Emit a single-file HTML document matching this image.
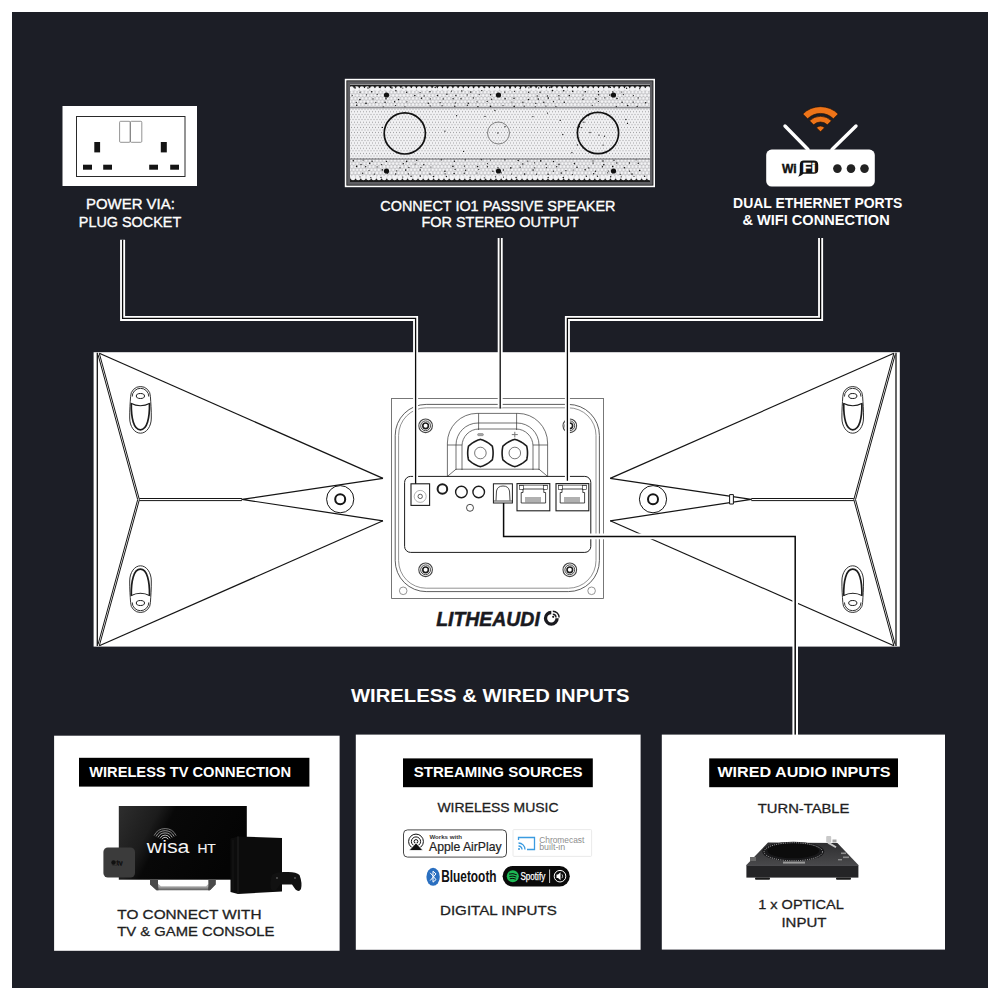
<!DOCTYPE html>
<html><head><meta charset="utf-8"><title>Lithe Audio</title>
<style>
html,body{margin:0;padding:0;background:#fff;width:1000px;height:1000px;overflow:hidden;}
svg{display:block;}
text{font-family:"Liberation Sans",sans-serif;}
</style></head><body>
<svg width="1000" height="1000" viewBox="0 0 1000 1000">
<defs>
<pattern id="hex" x="350" y="84.5" width="3" height="5.2" patternUnits="userSpaceOnUse">
<rect width="3" height="5.2" fill="#f1f1f3"/>
<circle cx="1.5" cy="1.3" r="0.55" fill="#9d9da0"/>
<circle cx="0" cy="3.9" r="0.55" fill="#9d9da0"/>
<circle cx="3" cy="3.9" r="0.55" fill="#9d9da0"/>
</pattern>
<pattern id="hexb" x="350" y="84.5" width="3.6" height="6.2" patternUnits="userSpaceOnUse">
<rect width="3.6" height="6.2" fill="#b9b9bc"/>
<circle cx="1.8" cy="1.55" r="1.45" fill="#f4f4f6"/>
<circle cx="0" cy="4.65" r="1.45" fill="#f4f4f6"/>
<circle cx="3.6" cy="4.65" r="1.45" fill="#f4f4f6"/>
</pattern>
</defs>
<rect x="12" y="12" width="976" height="976" fill="#1c1e26"/>

<!-- ============ PLUG SOCKET ============ -->
<rect x="62.5" y="106" width="134.5" height="80" fill="#fff"/>
<rect x="76.5" y="116.5" width="108.5" height="60" fill="none" stroke="#2a2a2a" stroke-width="1"/>
<rect x="119.6" y="121.3" width="10.6" height="21" rx="1" fill="none" stroke="#777" stroke-width="0.8"/>
<rect x="130.4" y="121.3" width="11.4" height="21" rx="1" fill="none" stroke="#777" stroke-width="0.8"/>
<rect x="94.3" y="142" width="5.8" height="10.4" fill="#141414"/>
<rect x="160.8" y="142" width="6" height="10.4" fill="#141414"/>
<rect x="83" y="164.7" width="9" height="5" fill="#141414"/>
<rect x="103.2" y="164.7" width="8.8" height="5" fill="#141414"/>
<rect x="149.2" y="164.7" width="8.8" height="5" fill="#141414"/>
<rect x="170.2" y="164.7" width="8.8" height="5" fill="#141414"/>
<text x="86" y="209.3" font-size="14.8" fill="#fff" stroke="#fff" stroke-width="0.35" textLength="88.8" lengthAdjust="spacingAndGlyphs">POWER VIA:</text>
<text x="78.8" y="226.6" font-size="14.8" fill="#fff" stroke="#fff" stroke-width="0.35" textLength="102.4" lengthAdjust="spacingAndGlyphs">PLUG SOCKET</text>

<!-- ============ SPEAKER ============ -->
<rect x="345.6" y="79.6" width="308.6" height="106.8" fill="#111" stroke="#fff" stroke-width="1.6"/>
<rect x="347.2" y="81.2" width="305.4" height="103.6" fill="#5e5e62"/>
<rect x="350" y="84.5" width="300" height="97.5" fill="url(#hex)"/>
<rect x="350" y="84.5" width="300" height="23" fill="url(#hexb)"/>
<rect x="350" y="159.2" width="300" height="22.8" fill="url(#hexb)"/>
<clipPath id="spkclip"><rect x="350" y="84.5" width="300" height="97.5"/></clipPath>
<g clip-path="url(#spkclip)">
<rect x="350" y="84.5" width="300" height="3.6" fill="#1e1e1e"/>
<rect x="350" y="178.6" width="300" height="3.4" fill="#1e1e1e"/>
<circle cx="351.5" cy="88.7" r="2.35" fill="#f2f2f4"/>
<circle cx="353.0" cy="178" r="2.35" fill="#f2f2f4"/>
<circle cx="356.7" cy="88.7" r="2.35" fill="#f2f2f4"/>
<circle cx="358.2" cy="178" r="2.35" fill="#f2f2f4"/>
<circle cx="361.9" cy="88.7" r="2.35" fill="#f2f2f4"/>
<circle cx="363.4" cy="178" r="2.35" fill="#f2f2f4"/>
<circle cx="367.1" cy="88.7" r="2.35" fill="#f2f2f4"/>
<circle cx="368.6" cy="178" r="2.35" fill="#f2f2f4"/>
<circle cx="372.3" cy="88.7" r="2.35" fill="#f2f2f4"/>
<circle cx="373.8" cy="178" r="2.35" fill="#f2f2f4"/>
<circle cx="377.5" cy="88.7" r="2.35" fill="#f2f2f4"/>
<circle cx="379.0" cy="178" r="2.35" fill="#f2f2f4"/>
<circle cx="382.7" cy="88.7" r="2.35" fill="#f2f2f4"/>
<circle cx="384.2" cy="178" r="2.35" fill="#f2f2f4"/>
<circle cx="387.9" cy="88.7" r="2.35" fill="#f2f2f4"/>
<circle cx="389.4" cy="178" r="2.35" fill="#f2f2f4"/>
<circle cx="393.1" cy="88.7" r="2.35" fill="#f2f2f4"/>
<circle cx="394.6" cy="178" r="2.35" fill="#f2f2f4"/>
<circle cx="398.3" cy="88.7" r="2.35" fill="#f2f2f4"/>
<circle cx="399.8" cy="178" r="2.35" fill="#f2f2f4"/>
<circle cx="403.5" cy="88.7" r="2.35" fill="#f2f2f4"/>
<circle cx="405.0" cy="178" r="2.35" fill="#f2f2f4"/>
<circle cx="408.7" cy="88.7" r="2.35" fill="#f2f2f4"/>
<circle cx="410.2" cy="178" r="2.35" fill="#f2f2f4"/>
<circle cx="413.9" cy="88.7" r="2.35" fill="#f2f2f4"/>
<circle cx="415.4" cy="178" r="2.35" fill="#f2f2f4"/>
<circle cx="419.1" cy="88.7" r="2.35" fill="#f2f2f4"/>
<circle cx="420.6" cy="178" r="2.35" fill="#f2f2f4"/>
<circle cx="424.3" cy="88.7" r="2.35" fill="#f2f2f4"/>
<circle cx="425.8" cy="178" r="2.35" fill="#f2f2f4"/>
<circle cx="429.5" cy="88.7" r="2.35" fill="#f2f2f4"/>
<circle cx="431.0" cy="178" r="2.35" fill="#f2f2f4"/>
<circle cx="434.7" cy="88.7" r="2.35" fill="#f2f2f4"/>
<circle cx="436.2" cy="178" r="2.35" fill="#f2f2f4"/>
<circle cx="439.9" cy="88.7" r="2.35" fill="#f2f2f4"/>
<circle cx="441.4" cy="178" r="2.35" fill="#f2f2f4"/>
<circle cx="445.1" cy="88.7" r="2.35" fill="#f2f2f4"/>
<circle cx="446.6" cy="178" r="2.35" fill="#f2f2f4"/>
<circle cx="450.3" cy="88.7" r="2.35" fill="#f2f2f4"/>
<circle cx="451.8" cy="178" r="2.35" fill="#f2f2f4"/>
<circle cx="455.5" cy="88.7" r="2.35" fill="#f2f2f4"/>
<circle cx="457.0" cy="178" r="2.35" fill="#f2f2f4"/>
<circle cx="460.7" cy="88.7" r="2.35" fill="#f2f2f4"/>
<circle cx="462.2" cy="178" r="2.35" fill="#f2f2f4"/>
<circle cx="465.9" cy="88.7" r="2.35" fill="#f2f2f4"/>
<circle cx="467.4" cy="178" r="2.35" fill="#f2f2f4"/>
<circle cx="471.1" cy="88.7" r="2.35" fill="#f2f2f4"/>
<circle cx="472.6" cy="178" r="2.35" fill="#f2f2f4"/>
<circle cx="476.3" cy="88.7" r="2.35" fill="#f2f2f4"/>
<circle cx="477.8" cy="178" r="2.35" fill="#f2f2f4"/>
<circle cx="481.5" cy="88.7" r="2.35" fill="#f2f2f4"/>
<circle cx="483.0" cy="178" r="2.35" fill="#f2f2f4"/>
<circle cx="486.7" cy="88.7" r="2.35" fill="#f2f2f4"/>
<circle cx="488.2" cy="178" r="2.35" fill="#f2f2f4"/>
<circle cx="491.9" cy="88.7" r="2.35" fill="#f2f2f4"/>
<circle cx="493.4" cy="178" r="2.35" fill="#f2f2f4"/>
<circle cx="497.1" cy="88.7" r="2.35" fill="#f2f2f4"/>
<circle cx="498.6" cy="178" r="2.35" fill="#f2f2f4"/>
<circle cx="502.3" cy="88.7" r="2.35" fill="#f2f2f4"/>
<circle cx="503.8" cy="178" r="2.35" fill="#f2f2f4"/>
<circle cx="507.5" cy="88.7" r="2.35" fill="#f2f2f4"/>
<circle cx="509.0" cy="178" r="2.35" fill="#f2f2f4"/>
<circle cx="512.7" cy="88.7" r="2.35" fill="#f2f2f4"/>
<circle cx="514.2" cy="178" r="2.35" fill="#f2f2f4"/>
<circle cx="517.9" cy="88.7" r="2.35" fill="#f2f2f4"/>
<circle cx="519.4" cy="178" r="2.35" fill="#f2f2f4"/>
<circle cx="523.1" cy="88.7" r="2.35" fill="#f2f2f4"/>
<circle cx="524.6" cy="178" r="2.35" fill="#f2f2f4"/>
<circle cx="528.3" cy="88.7" r="2.35" fill="#f2f2f4"/>
<circle cx="529.8" cy="178" r="2.35" fill="#f2f2f4"/>
<circle cx="533.5" cy="88.7" r="2.35" fill="#f2f2f4"/>
<circle cx="535.0" cy="178" r="2.35" fill="#f2f2f4"/>
<circle cx="538.7" cy="88.7" r="2.35" fill="#f2f2f4"/>
<circle cx="540.2" cy="178" r="2.35" fill="#f2f2f4"/>
<circle cx="543.9" cy="88.7" r="2.35" fill="#f2f2f4"/>
<circle cx="545.4" cy="178" r="2.35" fill="#f2f2f4"/>
<circle cx="549.1" cy="88.7" r="2.35" fill="#f2f2f4"/>
<circle cx="550.6" cy="178" r="2.35" fill="#f2f2f4"/>
<circle cx="554.3" cy="88.7" r="2.35" fill="#f2f2f4"/>
<circle cx="555.8" cy="178" r="2.35" fill="#f2f2f4"/>
<circle cx="559.5" cy="88.7" r="2.35" fill="#f2f2f4"/>
<circle cx="561.0" cy="178" r="2.35" fill="#f2f2f4"/>
<circle cx="564.7" cy="88.7" r="2.35" fill="#f2f2f4"/>
<circle cx="566.2" cy="178" r="2.35" fill="#f2f2f4"/>
<circle cx="569.9" cy="88.7" r="2.35" fill="#f2f2f4"/>
<circle cx="571.4" cy="178" r="2.35" fill="#f2f2f4"/>
<circle cx="575.1" cy="88.7" r="2.35" fill="#f2f2f4"/>
<circle cx="576.6" cy="178" r="2.35" fill="#f2f2f4"/>
<circle cx="580.3" cy="88.7" r="2.35" fill="#f2f2f4"/>
<circle cx="581.8" cy="178" r="2.35" fill="#f2f2f4"/>
<circle cx="585.5" cy="88.7" r="2.35" fill="#f2f2f4"/>
<circle cx="587.0" cy="178" r="2.35" fill="#f2f2f4"/>
<circle cx="590.7" cy="88.7" r="2.35" fill="#f2f2f4"/>
<circle cx="592.2" cy="178" r="2.35" fill="#f2f2f4"/>
<circle cx="595.9" cy="88.7" r="2.35" fill="#f2f2f4"/>
<circle cx="597.4" cy="178" r="2.35" fill="#f2f2f4"/>
<circle cx="601.1" cy="88.7" r="2.35" fill="#f2f2f4"/>
<circle cx="602.6" cy="178" r="2.35" fill="#f2f2f4"/>
<circle cx="606.3" cy="88.7" r="2.35" fill="#f2f2f4"/>
<circle cx="607.8" cy="178" r="2.35" fill="#f2f2f4"/>
<circle cx="611.5" cy="88.7" r="2.35" fill="#f2f2f4"/>
<circle cx="613.0" cy="178" r="2.35" fill="#f2f2f4"/>
<circle cx="616.7" cy="88.7" r="2.35" fill="#f2f2f4"/>
<circle cx="618.2" cy="178" r="2.35" fill="#f2f2f4"/>
<circle cx="621.9" cy="88.7" r="2.35" fill="#f2f2f4"/>
<circle cx="623.4" cy="178" r="2.35" fill="#f2f2f4"/>
<circle cx="627.1" cy="88.7" r="2.35" fill="#f2f2f4"/>
<circle cx="628.6" cy="178" r="2.35" fill="#f2f2f4"/>
<circle cx="632.3" cy="88.7" r="2.35" fill="#f2f2f4"/>
<circle cx="633.8" cy="178" r="2.35" fill="#f2f2f4"/>
<circle cx="637.5" cy="88.7" r="2.35" fill="#f2f2f4"/>
<circle cx="639.0" cy="178" r="2.35" fill="#f2f2f4"/>
<circle cx="642.7" cy="88.7" r="2.35" fill="#f2f2f4"/>
<circle cx="644.2" cy="178" r="2.35" fill="#f2f2f4"/>
<circle cx="647.9" cy="88.7" r="2.35" fill="#f2f2f4"/>
<circle cx="649.4" cy="178" r="2.35" fill="#f2f2f4"/>
<g fill="#151515"><circle cx="355.1" cy="87.9" r="0.8"/><circle cx="368.0" cy="88.0" r="0.8"/><circle cx="379.5" cy="87.2" r="0.8"/><circle cx="391.9" cy="87.9" r="0.8"/><circle cx="402.8" cy="88.1" r="0.6"/><circle cx="435.2" cy="87.5" r="0.7"/><circle cx="447.5" cy="87.6" r="0.8"/><circle cx="473.3" cy="87.6" r="0.6"/><circle cx="484.8" cy="87.6" r="0.6"/><circle cx="510.0" cy="87.9" r="0.8"/><circle cx="520.1" cy="88.6" r="0.7"/><circle cx="528.9" cy="87.8" r="0.6"/><circle cx="538.6" cy="87.9" r="0.7"/><circle cx="549.8" cy="87.4" r="0.8"/><circle cx="562.5" cy="87.8" r="0.6"/><circle cx="587.2" cy="87.0" r="0.6"/><circle cx="610.3" cy="87.4" r="0.7"/><circle cx="618.9" cy="87.8" r="0.6"/><circle cx="626.6" cy="88.2" r="0.7"/><circle cx="639.7" cy="88.7" r="0.6"/><circle cx="360.0" cy="92.2" r="0.6"/><circle cx="371.7" cy="91.7" r="0.8"/><circle cx="395.9" cy="90.7" r="0.7"/><circle cx="406.6" cy="92.2" r="0.8"/><circle cx="420.1" cy="92.6" r="0.6"/><circle cx="430.0" cy="91.8" r="0.7"/><circle cx="451.5" cy="91.1" r="0.6"/><circle cx="461.8" cy="90.9" r="0.7"/><circle cx="470.8" cy="92.1" r="0.8"/><circle cx="481.8" cy="90.6" r="0.7"/><circle cx="504.8" cy="92.1" r="0.7"/><circle cx="514.4" cy="91.3" r="0.6"/><circle cx="528.6" cy="92.2" r="0.7"/><circle cx="540.0" cy="92.3" r="0.7"/><circle cx="552.5" cy="90.6" r="0.8"/><circle cx="563.7" cy="90.8" r="0.8"/><circle cx="572.7" cy="91.3" r="0.8"/><circle cx="585.3" cy="91.7" r="0.8"/><circle cx="598.5" cy="91.6" r="0.6"/><circle cx="612.8" cy="91.9" r="0.7"/><circle cx="621.7" cy="92.0" r="0.6"/><circle cx="352.2" cy="95.5" r="0.6"/><circle cx="366.6" cy="94.8" r="0.6"/><circle cx="377.2" cy="94.3" r="0.6"/><circle cx="388.8" cy="95.1" r="0.7"/><circle cx="414.8" cy="95.6" r="0.8"/><circle cx="424.2" cy="95.9" r="0.6"/><circle cx="437.5" cy="95.5" r="0.8"/><circle cx="446.9" cy="94.2" r="0.7"/><circle cx="455.9" cy="95.5" r="0.7"/><circle cx="467.2" cy="94.9" r="0.6"/><circle cx="479.2" cy="94.6" r="0.6"/><circle cx="490.6" cy="94.7" r="0.7"/><circle cx="537.2" cy="96.0" r="0.7"/><circle cx="547.5" cy="96.0" r="0.7"/><circle cx="558.9" cy="95.8" r="0.7"/><circle cx="569.3" cy="95.6" r="0.8"/><circle cx="583.1" cy="95.0" r="0.6"/><circle cx="598.6" cy="94.8" r="0.8"/><circle cx="609.8" cy="95.1" r="0.8"/><circle cx="623.4" cy="94.6" r="0.6"/><circle cx="633.4" cy="95.6" r="0.6"/><circle cx="359.9" cy="99.6" r="0.8"/><circle cx="373.0" cy="98.9" r="0.7"/><circle cx="386.0" cy="98.8" r="0.8"/><circle cx="398.6" cy="99.5" r="0.8"/><circle cx="421.4" cy="98.2" r="0.8"/><circle cx="430.3" cy="98.9" r="0.6"/><circle cx="443.2" cy="98.9" r="0.7"/><circle cx="453.1" cy="98.7" r="0.7"/><circle cx="461.0" cy="98.7" r="0.7"/><circle cx="473.5" cy="97.9" r="0.7"/><circle cx="491.7" cy="99.2" r="0.7"/><circle cx="505.1" cy="98.8" r="0.8"/><circle cx="514.0" cy="98.2" r="0.8"/><circle cx="528.5" cy="99.5" r="0.8"/><circle cx="538.3" cy="99.1" r="0.8"/><circle cx="548.3" cy="98.1" r="0.8"/><circle cx="559.2" cy="99.0" r="0.6"/><circle cx="582.9" cy="99.3" r="0.7"/><circle cx="595.9" cy="98.9" r="0.8"/><circle cx="604.8" cy="97.8" r="0.6"/><circle cx="617.0" cy="98.5" r="0.8"/><circle cx="638.2" cy="97.9" r="0.6"/><circle cx="356.3" cy="102.4" r="0.6"/><circle cx="366.0" cy="103.4" r="0.8"/><circle cx="375.8" cy="102.3" r="0.6"/><circle cx="385.1" cy="102.3" r="0.8"/><circle cx="394.6" cy="101.8" r="0.7"/><circle cx="406.9" cy="101.8" r="0.6"/><circle cx="428.3" cy="103.2" r="0.8"/><circle cx="440.1" cy="102.6" r="0.7"/><circle cx="455.3" cy="102.9" r="0.6"/><circle cx="468.3" cy="103.2" r="0.8"/><circle cx="477.0" cy="101.8" r="0.6"/><circle cx="487.2" cy="101.4" r="0.7"/><circle cx="511.9" cy="102.0" r="0.6"/><circle cx="522.9" cy="102.2" r="0.7"/><circle cx="535.8" cy="103.4" r="0.6"/><circle cx="543.8" cy="102.3" r="0.8"/><circle cx="553.5" cy="101.6" r="0.7"/><circle cx="564.3" cy="102.2" r="0.8"/><circle cx="598.4" cy="101.5" r="0.6"/><circle cx="622.1" cy="102.3" r="0.7"/><circle cx="633.2" cy="102.1" r="0.7"/><circle cx="645.6" cy="102.7" r="0.8"/><circle cx="356.7" cy="105.3" r="0.8"/><circle cx="383.2" cy="106.9" r="0.6"/><circle cx="395.4" cy="105.5" r="0.6"/><circle cx="404.9" cy="106.8" r="0.6"/><circle cx="430.2" cy="105.9" r="0.6"/><circle cx="442.1" cy="105.7" r="0.6"/><circle cx="454.8" cy="106.2" r="0.7"/><circle cx="467.3" cy="105.3" r="0.7"/><circle cx="477.9" cy="106.8" r="0.8"/><circle cx="490.5" cy="106.4" r="0.8"/><circle cx="503.0" cy="105.5" r="0.6"/><circle cx="514.2" cy="106.4" r="0.8"/><circle cx="524.2" cy="106.2" r="0.6"/><circle cx="535.3" cy="106.8" r="0.6"/><circle cx="545.9" cy="106.0" r="0.6"/><circle cx="555.9" cy="106.7" r="0.6"/><circle cx="592.3" cy="105.3" r="0.6"/><circle cx="616.3" cy="106.8" r="0.7"/><circle cx="627.7" cy="105.6" r="0.8"/><circle cx="637.2" cy="106.4" r="0.7"/><circle cx="353.3" cy="160.7" r="0.8"/><circle cx="363.1" cy="160.1" r="0.6"/><circle cx="372.1" cy="161.3" r="0.7"/><circle cx="386.5" cy="161.4" r="0.7"/><circle cx="406.6" cy="161.4" r="0.8"/><circle cx="416.7" cy="160.2" r="0.7"/><circle cx="441.4" cy="159.8" r="0.8"/><circle cx="454.4" cy="161.3" r="0.7"/><circle cx="465.3" cy="159.8" r="0.7"/><circle cx="481.4" cy="159.6" r="0.8"/><circle cx="490.5" cy="160.0" r="0.6"/><circle cx="504.9" cy="159.8" r="0.8"/><circle cx="518.2" cy="160.5" r="0.8"/><circle cx="527.8" cy="161.1" r="0.7"/><circle cx="540.7" cy="160.9" r="0.8"/><circle cx="553.5" cy="161.5" r="0.7"/><circle cx="593.0" cy="160.9" r="0.6"/><circle cx="603.0" cy="161.0" r="0.8"/><circle cx="614.0" cy="160.3" r="0.7"/><circle cx="636.1" cy="159.8" r="0.6"/><circle cx="361.0" cy="164.4" r="0.7"/><circle cx="369.7" cy="163.3" r="0.8"/><circle cx="381.7" cy="164.6" r="0.7"/><circle cx="403.3" cy="163.8" r="0.7"/><circle cx="415.1" cy="164.1" r="0.6"/><circle cx="423.8" cy="164.7" r="0.7"/><circle cx="487.4" cy="163.6" r="0.6"/><circle cx="522.8" cy="164.0" r="0.8"/><circle cx="534.5" cy="162.8" r="0.6"/><circle cx="546.1" cy="164.2" r="0.6"/><circle cx="559.0" cy="164.3" r="0.8"/><circle cx="574.4" cy="163.6" r="0.8"/><circle cx="593.1" cy="163.1" r="0.7"/><circle cx="603.8" cy="164.8" r="0.8"/><circle cx="616.8" cy="163.0" r="0.7"/><circle cx="629.5" cy="163.0" r="0.7"/><circle cx="638.3" cy="163.3" r="0.8"/><circle cx="356.6" cy="166.4" r="0.8"/><circle cx="365.7" cy="166.8" r="0.7"/><circle cx="377.1" cy="166.9" r="0.6"/><circle cx="400.0" cy="167.8" r="0.6"/><circle cx="408.9" cy="167.4" r="0.6"/><circle cx="420.9" cy="167.3" r="0.6"/><circle cx="430.9" cy="167.0" r="0.6"/><circle cx="452.9" cy="166.4" r="0.8"/><circle cx="464.4" cy="166.1" r="0.7"/><circle cx="477.6" cy="166.6" r="0.8"/><circle cx="487.5" cy="166.7" r="0.7"/><circle cx="498.0" cy="167.7" r="0.6"/><circle cx="510.8" cy="167.9" r="0.8"/><circle cx="520.2" cy="167.2" r="0.6"/><circle cx="534.7" cy="167.8" r="0.6"/><circle cx="546.4" cy="167.7" r="0.6"/><circle cx="556.7" cy="166.8" r="0.7"/><circle cx="577.0" cy="167.2" r="0.8"/><circle cx="588.8" cy="167.9" r="0.7"/><circle cx="602.5" cy="166.7" r="0.7"/><circle cx="612.7" cy="166.5" r="0.8"/><circle cx="624.5" cy="167.7" r="0.8"/><circle cx="369.0" cy="170.5" r="0.6"/><circle cx="382.3" cy="169.9" r="0.8"/><circle cx="396.7" cy="170.8" r="0.6"/><circle cx="405.7" cy="170.1" r="0.8"/><circle cx="420.2" cy="170.0" r="0.7"/><circle cx="444.9" cy="171.2" r="0.8"/><circle cx="455.1" cy="169.4" r="0.6"/><circle cx="465.6" cy="170.2" r="0.7"/><circle cx="478.8" cy="169.5" r="0.6"/><circle cx="492.9" cy="171.3" r="0.7"/><circle cx="503.5" cy="170.0" r="0.7"/><circle cx="533.1" cy="170.1" r="0.8"/><circle cx="553.4" cy="171.2" r="0.6"/><circle cx="565.9" cy="170.6" r="0.7"/><circle cx="573.2" cy="170.0" r="0.6"/><circle cx="585.1" cy="169.7" r="0.8"/><circle cx="595.5" cy="171.2" r="0.7"/><circle cx="608.4" cy="171.0" r="0.6"/><circle cx="629.5" cy="171.1" r="0.7"/><circle cx="639.7" cy="170.5" r="0.8"/><circle cx="362.7" cy="173.3" r="0.7"/><circle cx="374.3" cy="174.1" r="0.7"/><circle cx="387.5" cy="172.9" r="0.8"/><circle cx="395.6" cy="174.0" r="0.7"/><circle cx="408.4" cy="173.9" r="0.6"/><circle cx="430.0" cy="174.0" r="0.7"/><circle cx="445.1" cy="173.8" r="0.6"/><circle cx="454.1" cy="173.5" r="0.8"/><circle cx="464.2" cy="173.2" r="0.7"/><circle cx="477.0" cy="173.0" r="0.6"/><circle cx="501.3" cy="172.8" r="0.6"/><circle cx="511.5" cy="174.0" r="0.6"/><circle cx="524.6" cy="174.1" r="0.8"/><circle cx="536.5" cy="174.2" r="0.6"/><circle cx="548.1" cy="174.2" r="0.8"/><circle cx="561.2" cy="173.1" r="0.8"/><circle cx="572.4" cy="174.6" r="0.6"/><circle cx="593.6" cy="173.7" r="0.7"/><circle cx="607.6" cy="172.8" r="0.6"/><circle cx="620.2" cy="174.3" r="0.6"/><circle cx="632.0" cy="174.1" r="0.8"/><circle cx="360.0" cy="176.8" r="0.6"/><circle cx="370.8" cy="177.6" r="0.6"/><circle cx="381.0" cy="177.4" r="0.6"/><circle cx="402.8" cy="177.0" r="0.6"/><circle cx="411.1" cy="176.2" r="0.8"/><circle cx="420.3" cy="176.1" r="0.8"/><circle cx="433.5" cy="176.5" r="0.8"/><circle cx="446.4" cy="176.5" r="0.7"/><circle cx="470.1" cy="177.3" r="0.6"/><circle cx="484.3" cy="177.8" r="0.6"/><circle cx="495.4" cy="176.8" r="0.6"/><circle cx="503.5" cy="177.1" r="0.6"/><circle cx="516.1" cy="177.5" r="0.7"/><circle cx="548.2" cy="177.4" r="0.7"/><circle cx="563.3" cy="177.5" r="0.8"/><circle cx="586.4" cy="176.3" r="0.7"/><circle cx="597.5" cy="176.2" r="0.7"/><circle cx="610.7" cy="176.8" r="0.7"/><circle cx="621.2" cy="176.8" r="0.6"/><circle cx="634.0" cy="176.3" r="0.6"/><circle cx="644.6" cy="176.3" r="0.8"/><circle cx="444.9" cy="131.2" r="0.65"/><circle cx="463.6" cy="151.4" r="0.65"/><circle cx="599.0" cy="135.1" r="0.65"/><circle cx="485.0" cy="116.4" r="0.65"/><circle cx="505.0" cy="126.7" r="0.65"/><circle cx="382.4" cy="127.4" r="0.65"/><circle cx="532.9" cy="116.6" r="0.65"/><circle cx="603.1" cy="145.1" r="0.65"/><circle cx="494.9" cy="110.5" r="0.65"/><circle cx="577.4" cy="144.9" r="0.65"/><circle cx="547.5" cy="113.1" r="0.65"/><circle cx="604.5" cy="136.2" r="0.65"/><circle cx="456.6" cy="115.7" r="0.65"/><circle cx="581.3" cy="127.6" r="0.65"/><circle cx="583.9" cy="122.2" r="0.65"/><circle cx="588.7" cy="115.6" r="0.65"/><circle cx="497.9" cy="133.0" r="0.65"/><circle cx="627.5" cy="123.4" r="0.65"/><circle cx="560.2" cy="120.4" r="0.65"/><circle cx="625.9" cy="119.5" r="0.65"/><circle cx="579.4" cy="126.5" r="0.65"/><circle cx="562.8" cy="134.5" r="0.65"/><circle cx="571.9" cy="152.7" r="0.65"/><circle cx="590.0" cy="132.5" r="0.65"/></g>
</g>
<line x1="350" y1="107.8" x2="650" y2="107.8" stroke="#6a6a6e" stroke-width="1"/>
<line x1="350" y1="159" x2="650" y2="159" stroke="#6a6a6e" stroke-width="1"/>
<circle cx="404.8" cy="133.4" r="20.6" fill="none" stroke="#111" stroke-width="1.7"/>
<circle cx="598" cy="133" r="20.6" fill="none" stroke="#111" stroke-width="1.7"/>
<circle cx="498.5" cy="133" r="11" fill="none" stroke="#666" stroke-width="0.8"/>
<g fill="#111">
<circle cx="386.5" cy="95" r="2.6"/><circle cx="386.5" cy="171" r="2.6"/>
<circle cx="498.5" cy="95" r="2.6"/><circle cx="498.5" cy="171" r="2.6"/>
<circle cx="613.5" cy="95" r="2.6"/><circle cx="613.5" cy="171" r="2.6"/>
</g>
<text x="380.3" y="210.9" font-size="14.8" fill="#fff" stroke="#fff" stroke-width="0.35" textLength="235.2" lengthAdjust="spacingAndGlyphs">CONNECT IO1 PASSIVE SPEAKER</text>
<text x="421.4" y="227.3" font-size="14.8" fill="#fff" stroke="#fff" stroke-width="0.35" textLength="157.4" lengthAdjust="spacingAndGlyphs">FOR STEREO OUTPUT</text>

<!-- ============ ROUTER ============ -->
<line x1="785" y1="126" x2="808" y2="149.5" stroke="#fff" stroke-width="3.4" stroke-linecap="round"/>
<line x1="856" y1="126" x2="832" y2="149.5" stroke="#fff" stroke-width="3.4" stroke-linecap="round"/>
<rect x="766.2" y="149.6" width="108.6" height="37" rx="5.5" fill="#fff"/>
<g fill="#ee7419" stroke="#1a0d05" stroke-width="0.6">
<path d="M 802.82 113.97 A 25 25 0 0 1 838.18 113.97 L 833.4 118.75 A 18.25 18.25 0 0 0 807.6 118.75 Z"/>
<path d="M 809.54 120.79 A 15.5 15.5 0 0 1 831.46 120.79 L 827.4 124.85 A 9.75 9.75 0 0 0 813.6 124.85 Z"/>
<path d="M 820.5 131.75 L 816.43 127.68 A 5.75 5.75 0 0 1 824.57 127.68 Z"/>
</g>
<text x="782" y="172.7" font-size="12.8" font-weight="bold" fill="#111" stroke="#111" stroke-width="0.45" textLength="14.6" lengthAdjust="spacingAndGlyphs">Wi</text>
<path d="M 803.8 160.4 H 813.8 Q 818.2 160.4 818.2 164.8 V 169.4 Q 818.2 173.8 813.8 173.8 H 803.4 Q 801.4 175.8 798.2 176.8 Q 799.9 174.6 799.8 171.8 V 164.8 Q 799.8 160.4 803.8 160.4 Z" fill="#111"/>
<text x="802.6" y="172" font-size="12" font-weight="bold" fill="#fff" stroke="#fff" stroke-width="0.35" textLength="13" lengthAdjust="spacingAndGlyphs">Fi</text>
<g fill="#222"><circle cx="837.4" cy="168.6" r="4.3"/><circle cx="851" cy="168.6" r="4.3"/><circle cx="864.5" cy="168.6" r="4.3"/></g>
<text x="733.1" y="208.1" font-size="13.8" font-weight="bold" fill="#fff" textLength="169.3" lengthAdjust="spacingAndGlyphs">DUAL ETHERNET PORTS</text>
<text x="742.5" y="225.3" font-size="13.8" font-weight="bold" fill="#fff" textLength="147.2" lengthAdjust="spacingAndGlyphs">&amp; WIFI CONNECTION</text>

<!-- ============ DEVICE ============ -->
<rect x="93.6" y="352.2" width="806.2" height="294.4" fill="#fff"/>
<g fill="none" stroke="#151515" stroke-width="1.2" stroke-linejoin="round">
<line x1="97.3" y1="352.8" x2="97.3" y2="646" stroke-width="1.3"/>
<line x1="896" y1="352.8" x2="896" y2="646" stroke-width="1.3"/>
<g id="wingL">
<line x1="99.3" y1="353.3" x2="383" y2="478.4"/>
<line x1="99.3" y1="645.8" x2="383" y2="520.8"/>
<path d="M 99.3 353.3 L 139.4 499.6 L 99.3 645.8" stroke-width="1"/>
<path d="M 98 354.6 L 137.7 499.6 L 98 644.5" stroke-width="1"/>
<line x1="139.4" y1="498.5" x2="241.9" y2="498.5" stroke-width="1"/>
<line x1="139.4" y1="500.6" x2="241.9" y2="500.6" stroke-width="1"/>
<path d="M 383 478.4 L 241.9 499.4 L 383 520.8"/>
<circle cx="340.2" cy="499.2" r="13.6" stroke-width="1"/>
<circle cx="340.2" cy="499.2" r="5" stroke-width="2"/>
</g>
<use href="#wingL" transform="translate(993.2 0) scale(-1 1)"/>
<rect x="729.6" y="494.6" width="3.8" height="9.4" fill="#fff" stroke-width="1"/>
</g>
<!-- keyholes -->
<g id="kh" fill="none" stroke="#1c1c1c" stroke-width="0.9">
<path d="M 130.6 396.4 A 9.9 9.9 0 0 1 150.4 396.4 C 150.8 403 151.4 410 151.3 418 C 151.3 426.5 146.5 433.2 140.5 433.2 C 134.5 433.2 129.7 426.5 129.7 418 C 129.6 410 130.2 403 130.6 396.4 Z"/>
<path d="M 132.2 396.6 A 8.3 8.3 0 0 1 148.8 396.6"/>
<path d="M 131.3 403.6 C 131.1 418 133.6 429.8 140.4 429.8 C 147.2 429.8 149.7 418 149.5 403.6" stroke-width="1.7"/>
<path d="M 130.8 403.2 Q 140.4 408.2 150 403.2" stroke-width="1.1"/>
<ellipse cx="140.4" cy="396" rx="4.1" ry="2.5" stroke-width="1"/>
</g>
<use href="#kh" transform="translate(0 999) scale(1 -1)"/>
<use href="#kh" transform="translate(993.2 0) scale(-1 1)"/>
<use href="#kh" transform="translate(993.2 999) scale(-1 -1)"/>

<!-- center panel -->
<g fill="none" stroke="#333" stroke-width="0.8">
<rect x="391.6" y="398.4" width="212" height="200" stroke="#555" stroke-width="0.8"/>
<rect x="395.2" y="404.4" width="204.2" height="187.2" rx="31"/>
<rect x="398.6" y="407.8" width="197.4" height="180.4" rx="27.6" stroke="#777"/>
</g>
<!-- screws -->
<g id="scr" fill="none" stroke="#1c1c1c">
<circle cx="425.6" cy="425.8" r="6.8" stroke-width="1.1" stroke="#444"/>
<circle cx="425.6" cy="425.8" r="4.9" stroke-width="0.8"/>
<circle cx="425.6" cy="425.8" r="2.8" stroke-width="1.6"/>
</g>
<use href="#scr" transform="translate(144.2 0)"/>
<use href="#scr" transform="translate(0 144)"/>
<use href="#scr" transform="translate(144.2 144)"/>
<g fill="none" stroke="#888" stroke-width="0.9">
<circle cx="403.2" cy="590.8" r="3.8"/>
<circle cx="591.6" cy="590.8" r="3.8"/>
</g>
<!-- terminal housing -->
<g fill="none" stroke="#333" stroke-width="0.7">
<path d="M 447.4 476.4 L 447.4 443 A 29.6 29.6 0 0 1 477 413.4 L 518 413.4 A 29.6 29.6 0 0 1 547.6 443 L 547.6 476.4"/>
<path d="M 456 470 L 456 445 A 22 22 0 0 1 478 423 L 517 423 A 22 22 0 0 1 539 445 L 539 470"/>
<path d="M 462 470 L 462 446 A 17 17 0 0 1 479 429 L 516 429 A 17 17 0 0 1 533 446 L 533 470"/>
<path d="M 447.4 476.4 L 456 469.2 L 539 469.2 L 547.6 476.4"/>
<line x1="478.6" y1="413.4" x2="478.6" y2="430"/>
<line x1="516.6" y1="413.4" x2="516.6" y2="430"/>
<line x1="447.4" y1="445" x2="462" y2="445"/>
<line x1="533" y1="445" x2="547.6" y2="445"/>
</g>
<g fill="none" stroke="#1c1c1c">
<polygon points="493.11,453.00 493.08,454.11 493.02,455.22 492.90,456.35 492.75,457.49 492.55,458.67 492.31,459.88 491.38,460.69 490.47,461.45 489.55,462.15 488.63,462.81 487.70,463.43 486.75,464.00 485.78,464.54 484.78,465.04 483.75,465.50 482.68,465.94 481.57,466.35 480.40,466.75 479.23,466.35 478.12,465.94 477.05,465.50 476.02,465.04 475.02,464.54 474.05,464.00 473.10,463.43 472.17,462.81 471.25,462.15 470.33,461.45 469.42,460.69 468.49,459.88 468.25,458.67 468.05,457.49 467.90,456.35 467.78,455.22 467.72,454.11 467.69,453.00 467.72,451.89 467.78,450.78 467.90,449.65 468.05,448.51 468.25,447.33 468.49,446.12 469.42,445.31 470.33,444.55 471.25,443.85 472.17,443.19 473.10,442.57 474.05,442.00 475.02,441.46 476.02,440.96 477.05,440.50 478.12,440.06 479.23,439.65 480.40,439.25 481.57,439.65 482.68,440.06 483.75,440.50 484.78,440.96 485.78,441.46 486.75,442.00 487.70,442.57 488.63,443.19 489.55,443.85 490.47,444.55 491.38,445.31 492.31,446.12 492.55,447.33 492.75,448.51 492.90,449.65 493.02,450.78 493.08,451.89" stroke-width="1.6"/>
<circle cx="480.4" cy="453" r="5.8" stroke-width="0.6"/>
<polygon points="527.51,453.00 527.48,454.11 527.42,455.22 527.30,456.35 527.15,457.49 526.95,458.67 526.71,459.88 525.78,460.69 524.87,461.45 523.95,462.15 523.03,462.81 522.10,463.43 521.15,464.00 520.18,464.54 519.18,465.04 518.15,465.50 517.08,465.94 515.97,466.35 514.80,466.75 513.63,466.35 512.52,465.94 511.45,465.50 510.42,465.04 509.42,464.54 508.45,464.00 507.50,463.43 506.57,462.81 505.65,462.15 504.73,461.45 503.82,460.69 502.89,459.88 502.65,458.67 502.45,457.49 502.30,456.35 502.18,455.22 502.12,454.11 502.09,453.00 502.12,451.89 502.18,450.78 502.30,449.65 502.45,448.51 502.65,447.33 502.89,446.12 503.82,445.31 504.73,444.55 505.65,443.85 506.57,443.19 507.50,442.57 508.45,442.00 509.42,441.46 510.42,440.96 511.45,440.50 512.52,440.06 513.63,439.65 514.80,439.25 515.97,439.65 517.08,440.06 518.15,440.50 519.18,440.96 520.18,441.46 521.15,442.00 522.10,442.57 523.03,443.19 523.95,443.85 524.87,444.55 525.78,445.31 526.71,446.12 526.95,447.33 527.15,448.51 527.30,449.65 527.42,450.78 527.48,451.89" stroke-width="1.6"/>
<circle cx="514.8" cy="453" r="5.8" stroke-width="0.6"/>
<rect x="477.6" y="433.6" width="5.8" height="2.1" rx="1" fill="#aaa" stroke="#666" stroke-width="0.5"/>
<line x1="511.8" y1="434.6" x2="517.8" y2="434.6" stroke-width="1" stroke="#777"/>
<line x1="514.8" y1="431.8" x2="514.8" y2="437.4" stroke-width="1" stroke="#777"/>
</g>
<!-- connector panel -->
<rect x="404.6" y="476.4" width="186.2" height="76" rx="6" fill="none" stroke="#1c1c1c" stroke-width="1"/>
<g fill="none" stroke="#1c1c1c">
<rect x="411" y="483.8" width="18.6" height="21.6" stroke-width="1.1"/>
<circle cx="420.2" cy="496.4" r="6" stroke-width="0.5" stroke="#666"/>
<circle cx="420.2" cy="496.4" r="2.2" stroke-width="0.7"/>
<circle cx="442.4" cy="489" r="4.8" stroke-width="2"/>
<circle cx="461.4" cy="492" r="5.8" stroke-width="1.4"/>
<circle cx="478.7" cy="492" r="5.8" stroke-width="1.4"/>
<circle cx="470" cy="507.8" r="3.5" stroke-width="0.8"/>
<rect x="493.4" y="483.8" width="19" height="19.2" stroke-width="1"/>
<path d="M 496 500.5 L 496.5 491 Q 497.5 486 503 486 Q 508.5 486 509.5 491 L 510 500.5" stroke-width="0.8"/>
<line x1="493.4" y1="501" x2="512.4" y2="501" stroke-width="0.8"/>
</g>
<g id="rj" fill="none" stroke="#1c1c1c">
<rect x="517" y="483.6" width="32.8" height="27.2" stroke-width="1.1"/>
<path d="M 519 485.2 L 547.8 485.2" stroke-width="0.6"/>
<path d="M 521.2 503 L 521.2 492.5 L 523 492.5 L 523 489 L 543.8 489 L 543.8 492.5 L 545.6 492.5 L 545.6 503 Z" stroke-width="0.8"/>
<rect x="519.5" y="485.5" width="4" height="4" stroke-width="0.6"/>
<rect x="543.3" y="485.5" width="4" height="4" stroke-width="0.6"/>
<path d="M 526 497 v5.4 M 528 497 v5.4 M 530 497 v5.4 M 532 497 v5.4 M 534 497 v5.4 M 536 497 v5.4 M 538 497 v5.4 M 540 497 v5.4" stroke-width="0.7"/>
</g>
<use href="#rj" transform="translate(39 0)"/>
<!-- logo -->
<text x="436.2" y="625.8" font-size="20" font-weight="bold" font-style="italic" fill="#1a1a1f" stroke="#1a1a1f" stroke-width="0.5" textLength="103.6" lengthAdjust="spacingAndGlyphs">LITHEAUDI</text>
<path d="M 551.3 612.5 A 5.8 5.8 0 1 0 557.1 618.3" fill="none" stroke="#1a1a1f" stroke-width="3.3"/>
<g fill="none" stroke="#1a1a1f" stroke-width="1.4">
<path d="M 552.8 614.3 A 3.2 3.2 0 0 1 556 617.5"/>
<path d="M 552.8 611.2 A 6.3 6.3 0 0 1 559.1 617.5"/>
</g>
<circle cx="553.2" cy="616.8" r="1.1" fill="#1a1a1f"/>

<!-- ============ CONNECTOR LINES ============ -->
<g fill="none" stroke-linejoin="miter" stroke-linecap="butt">
<g stroke="#fff" stroke-width="5">
<path d="M 122.6 239.8 L 122.6 318.4 L 415.6 318.4 L 415.6 482.5"/>
<path d="M 500.2 238 L 500.2 407.5"/>
<path d="M 820.6 238 L 820.6 318.4 L 567.4 318.4 L 567.4 480"/>
<path d="M 503.6 504 L 503.6 536.4 L 795.2 536.4 L 795.2 735" stroke-width="5.6"/>
</g>
<g stroke="#0a0a0a" stroke-width="1.3">
<path d="M 122.6 239.8 L 122.6 318.4 L 415.6 318.4 L 415.6 483.8"/>
<path d="M 500.2 238 L 500.2 408.6"/>
<path d="M 820.6 238 L 820.6 318.4 L 567.4 318.4 L 567.4 480.8"/>
<path d="M 503.6 503 L 503.6 536.4 L 795.2 536.4 L 795.2 735" stroke-width="1.5"/>
</g>
</g>


<!-- ============ TITLE ============ -->
<text x="351" y="702" font-size="19.2" font-weight="bold" fill="#fff" textLength="278.6" lengthAdjust="spacingAndGlyphs">WIRELESS &amp; WIRED INPUTS</text>

<!-- ============ BOX 1 ============ -->
<rect x="54.1" y="735.7" width="285.5" height="215.1" fill="#fff"/>
<rect x="79" y="757.8" width="230.4" height="28.8" fill="#000"/>
<text x="89.2" y="776.8" font-size="13.8" font-weight="bold" fill="#fff" textLength="201.8" lengthAdjust="spacingAndGlyphs">WIRELESS TV CONNECTION</text>
<!-- TV -->
<defs>
<linearGradient id="tvg" x1="0" y1="0" x2="1" y2="0.3">
<stop offset="0" stop-color="#2e2e2e"/><stop offset="0.3" stop-color="#1c1c1c"/><stop offset="0.42" stop-color="#080808"/><stop offset="1" stop-color="#040404"/>
</linearGradient>
<linearGradient id="stand" x1="0" y1="0" x2="0" y2="1">
<stop offset="0" stop-color="#6a6a6a"/><stop offset="0.6" stop-color="#b8b8b8"/><stop offset="1" stop-color="#5a5a5a"/>
</linearGradient>
</defs>
<rect x="118.8" y="806" width="128" height="73.7" fill="url(#tvg)"/>
<path d="M 150 879.7 L 150 884.5 L 156.5 890.3 L 210 890.3 L 215.7 884.5 L 215.7 879.7 L 208.5 879.7 L 208.5 884 L 206 886.2 L 161 886.2 L 158 884 L 158 879.7 Z" fill="url(#stand)"/>
<path d="M 150 879.7 L 150 884.5 L 156.5 890.3 L 158.5 890.3 L 158 884 L 158 879.7 Z M 215.7 879.7 L 215.7 884.5 L 210 890.3 L 208 890.3 L 208.5 884 L 208.5 879.7 Z" fill="#4a4a4a"/>
<g fill="none" stroke-width="0.9"><path d="M 162.02 839.26 A 3.4 3.4 0 0 1 168.18 839.26" stroke="#d8d8d8"/><path d="M 160.02 838.33 A 5.6 5.6 0 0 1 170.18 838.33" stroke="#c8c8c8"/><path d="M 158.03 837.40 A 7.8 7.8 0 0 1 172.17 837.40" stroke="#b8b8b8"/><path d="M 156.04 836.47 A 10 10 0 0 1 174.16 836.47" stroke="#a0a0a0"/><path d="M 154.13 835.59 A 12.1 12.1 0 0 1 176.07 835.59" stroke="#888"/></g>
<text x="146.8" y="853" font-size="18" fill="#f4f4f4" textLength="42.6" lengthAdjust="spacingAndGlyphs">wisa</text>
<text x="197.4" y="853" font-size="13.4" fill="#f4f4f4" stroke="#f4f4f4" stroke-width="0.2" textLength="18.4" lengthAdjust="spacingAndGlyphs">HT</text>
<!-- apple tv -->
<rect x="103.4" y="847.4" width="31.6" height="30.1" rx="4.5" fill="#3b3b3b"/>
<text x="112" y="865.5" font-size="7" fill="#111">&#63743;tv</text>
<circle cx="113.5" cy="862.5" r="2.2" fill="#111"/>
<text x="116.5" y="865.3" font-size="7" font-weight="bold" fill="#111">tv</text>
<!-- ps4 -->
<path d="M 230.5 838.5 L 238 836.4 L 282 838 L 282 891.5 L 238 894 L 230.5 892 Z" fill="#0c0c0c"/>
<path d="M 238 836.4 L 238 894" stroke="#2a2a2a" stroke-width="0.8"/>
<path d="M 233 840 L 233 890" stroke="#1e1e1e" stroke-width="0.6"/>
<!-- controller -->
<path d="M 272 875 Q 276 871.5 286 872 Q 296 871.5 299.5 875 Q 302.5 883 301 889 Q 299 892.5 295.5 889.5 L 292 884.5 L 280 884.5 L 276.5 889.5 Q 273 892.5 271 889 Q 269.5 883 272 875 Z" fill="#111"/>
<g fill="#555"><circle cx="277" cy="878" r="1"/><circle cx="295" cy="878" r="1"/></g>
<text x="117.3" y="919.2" font-size="13.6" fill="#1e1e1e" stroke="#1e1e1e" stroke-width="0.3" textLength="144.2" lengthAdjust="spacingAndGlyphs">TO CONNECT WITH</text>
<text x="117.3" y="936.2" font-size="13.6" fill="#1e1e1e" stroke="#1e1e1e" stroke-width="0.3" textLength="157" lengthAdjust="spacingAndGlyphs">TV &amp; GAME CONSOLE</text>

<!-- ============ BOX 2 ============ -->
<rect x="355.8" y="734.6" width="284.8" height="215.2" fill="#fff"/>
<rect x="403" y="758.4" width="189.8" height="28.8" fill="#000"/>
<text x="413.8" y="776.6" font-size="13.8" font-weight="bold" fill="#fff" textLength="168.8" lengthAdjust="spacingAndGlyphs">STREAMING SOURCES</text>
<text x="437.4" y="811.9" font-size="13.6" fill="#1e1e1e" stroke="#1e1e1e" stroke-width="0.3" textLength="121.2" lengthAdjust="spacingAndGlyphs">WIRELESS MUSIC</text>
<!-- airplay -->
<rect x="403.5" y="829.9" width="103" height="27.2" rx="4" fill="#fff" stroke="#333" stroke-width="0.9"/>
<g fill="none" stroke="#111" stroke-width="1">
<circle cx="416" cy="841.5" r="7.4"/>
<circle cx="416" cy="841.5" r="4.6"/>
<circle cx="416" cy="841.5" r="1.9"/>
</g>
<path d="M 409 850.5 L 416 843 L 423 850.5 Z" fill="#111" stroke="#fff" stroke-width="0.8"/>
<text x="429.4" y="839.4" font-size="6.2" font-weight="bold" fill="#333" textLength="32.6" lengthAdjust="spacingAndGlyphs">Works with</text>
<text x="429" y="851.2" font-size="12.4" fill="#222" stroke="#222" stroke-width="0.2" textLength="72.6" lengthAdjust="spacingAndGlyphs">Apple AirPlay</text>
<!-- chromecast -->
<rect x="513" y="829.6" width="78.6" height="26.8" rx="1" fill="#fff" stroke="#e4e4e4" stroke-width="0.8"/>
<g fill="none" stroke="#3b9be0" stroke-width="1.3">
<path d="M 518.5 840 L 518.5 837.5 L 534.5 837.5 L 534.5 849.5 L 527 849.5"/>
<path d="M 518.5 843 A 6.5 6.5 0 0 1 525 849.5"/>
<path d="M 518.5 846 A 3.5 3.5 0 0 1 522 849.5"/>
</g>
<circle cx="519" cy="849" r="1" fill="#3b9be0"/>
<text x="539.2" y="843.1" font-size="9.2" fill="#8e8e8e" textLength="45.2" lengthAdjust="spacingAndGlyphs">Chromecast</text>
<text x="539.2" y="850.2" font-size="9" fill="#8e8e8e" textLength="26" lengthAdjust="spacingAndGlyphs">built-in</text>
<!-- bluetooth -->
<ellipse cx="433.1" cy="876.8" rx="6.7" ry="9" fill="#2a6fc0"/>
<path d="M 430.2 872.8 L 436 879.6 L 433 882.2 L 433 871.2 L 436 873.9 L 430.2 880.5" fill="none" stroke="#fff" stroke-width="1"/>
<text x="441.2" y="881.7" font-size="16.4" font-weight="bold" fill="#111" textLength="55.4" lengthAdjust="spacingAndGlyphs">Bluetooth</text>
<!-- spotify -->
<rect x="502.6" y="866" width="67.2" height="20.4" rx="10.2" fill="#0a0a0a"/>
<circle cx="512.8" cy="876.2" r="6" fill="#1db954"/>
<g fill="none" stroke="#0a0a0a" stroke-width="1" stroke-linecap="round">
<path d="M 509.4 874 Q 513 872.8 516.4 874.6"/>
<path d="M 509.8 876.4 Q 513 875.4 516 876.9"/>
<path d="M 510.2 878.6 Q 513 877.8 515.5 879"/>
</g>
<text x="520.4" y="880" font-size="10" fill="#fff" stroke="#fff" stroke-width="0.25" textLength="24.8" lengthAdjust="spacingAndGlyphs">Spotify</text>
<line x1="549.6" y1="869.5" x2="549.6" y2="883" stroke="#fff" stroke-width="0.8"/>
<circle cx="560" cy="876.2" r="5.8" fill="none" stroke="#fff" stroke-width="1"/>
<path d="M 556.5 874.5 L 558 874.5 L 560.5 872.2 L 560.5 880.2 L 558 877.9 L 556.5 877.9 Z" fill="#fff"/>
<path d="M 562 874.3 Q 563.4 876.2 562 878.1" fill="none" stroke="#fff" stroke-width="0.7"/>
<text x="440" y="914.6" font-size="13.6" fill="#1e1e1e" stroke="#1e1e1e" stroke-width="0.3" textLength="116.8" lengthAdjust="spacingAndGlyphs">DIGITAL INPUTS</text>

<!-- ============ BOX 3 ============ -->
<rect x="661.8" y="734.6" width="283.2" height="215" fill="#fff"/>
<rect x="709.2" y="758.4" width="188.8" height="28.8" fill="#000"/>
<text x="717.4" y="776.6" font-size="13.8" font-weight="bold" fill="#fff" textLength="173.2" lengthAdjust="spacingAndGlyphs">WIRED AUDIO INPUTS</text>
<text x="757.8" y="812.9" font-size="13.6" fill="#1e1e1e" stroke="#1e1e1e" stroke-width="0.3" textLength="91.6" lengthAdjust="spacingAndGlyphs">TURN-TABLE</text>
<!-- turntable -->
<defs><linearGradient id="ttop" x1="0" y1="0" x2="0" y2="1"><stop offset="0" stop-color="#2e2e30"/><stop offset="1" stop-color="#48484a"/></linearGradient></defs>
<path d="M 768 842.6 L 837.4 843 L 858.4 865 L 746.4 865 Z" fill="url(#ttop)"/>
<rect x="746.4" y="865" width="112" height="12.6" fill="#242426"/>
<line x1="746.6" y1="865.4" x2="858.2" y2="865.4" stroke="#5c5c5e" stroke-width="0.8"/>
<rect x="755" y="877.4" width="15" height="2.4" rx="1" fill="#1a1a1a"/>
<rect x="836" y="877.4" width="15" height="2.4" rx="1" fill="#1a1a1a"/>
<ellipse cx="793.3" cy="851.6" rx="31" ry="9.9" fill="#18181a"/>
<ellipse cx="793.3" cy="851.8" rx="29.2" ry="9" fill="none" stroke="#d0d0d0" stroke-width="0.9" stroke-dasharray="0.9 1.3"/>
<ellipse cx="793.3" cy="850.8" rx="25.8" ry="7.4" fill="#0c0c0c"/>
<rect x="783" y="861.6" width="22" height="2" fill="#9a9a9a"/>
<rect x="750" y="857" width="6" height="4" fill="#6a6a6a"/>
<g fill="#c9c9c9">
<rect x="826.2" y="836" width="5" height="6.5" rx="1"/>
<path d="M 829 842 L 836.5 846.5 L 835.5 848 L 827.5 843.5 Z"/>
<rect x="832.5" y="839.5" width="4" height="3" fill="#a5a5a5"/>
</g>
<g fill="#8c8c8c"><rect x="841" y="852.5" width="5" height="1.6"/><rect x="843" y="856.5" width="6" height="1.6"/><rect x="838" y="859" width="4" height="1.4"/></g>
<text x="758.2" y="909.2" font-size="13.6" fill="#1e1e1e" stroke="#1e1e1e" stroke-width="0.3" textLength="85.6" lengthAdjust="spacingAndGlyphs">1 x OPTICAL</text>
<text x="781.4" y="926.7" font-size="13.6" fill="#1e1e1e" stroke="#1e1e1e" stroke-width="0.3" textLength="45" lengthAdjust="spacingAndGlyphs">INPUT</text>


</svg>
</body></html>
